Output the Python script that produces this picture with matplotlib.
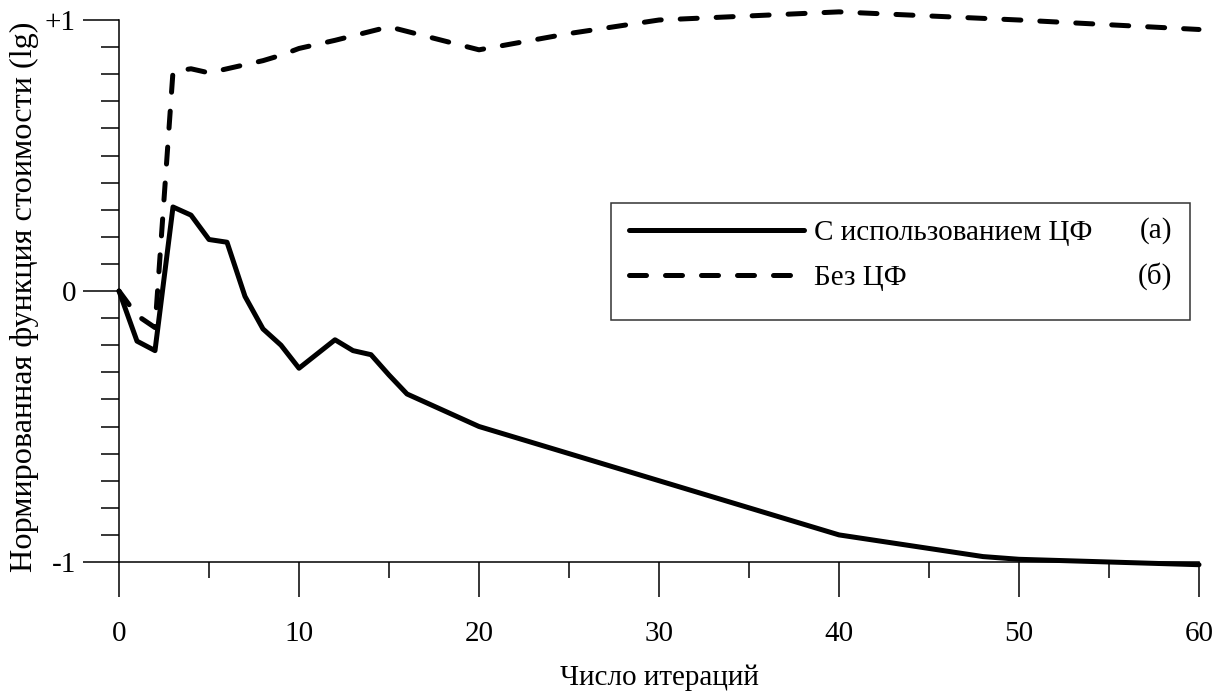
import matplotlib
matplotlib.use("Agg")
import matplotlib.pyplot as plt
from matplotlib.ticker import MultipleLocator, FixedLocator
from matplotlib.patches import Rectangle

# ---- data ----
x_a = [0, 1, 2, 3, 4, 5, 6, 7, 8, 9, 10, 12, 13, 14, 15, 16, 20, 30, 40, 48, 50, 60]
y_a = [0, -0.185, -0.22, 0.31, 0.28, 0.19, 0.18, -0.02, -0.14, -0.20, -0.285,
       -0.18, -0.22, -0.235, -0.31, -0.38, -0.50, -0.70, -0.90, -0.98, -0.99, -1.01]

x_b = [0, 1, 2, 3, 4, 5, 6, 7, 8, 9, 10, 12, 15, 20, 25, 30, 40, 50, 60]
y_b = [0, -0.09, -0.135, 0.81, 0.82, 0.805, 0.82, 0.835, 0.85, 0.87, 0.895,
       0.925, 0.975, 0.89, 0.95, 1.0, 1.03, 1.0, 0.965]

label_a = "С использованием ЦФ"
label_b = "Без ЦФ"
tag_a = "(а)"
tag_b = "(б)"
xlabel = "Число итераций"
ylabel = "Нормированная функция стоимости (lg)"
x_major = [0, 10, 20, 30, 40, 50, 60]
y_major = [-1, 0, 1]
y_major_labels = ["-1", "0", "+1"]

FS = 21
plt.rcParams['font.family'] = ['Liberation Serif', 'DejaVu Serif']
plt.rcParams['font.size'] = FS

W, H = 1223, 693
fig = plt.figure(figsize=(W / 100, H / 100), dpi=100)
ax = fig.add_axes([119 / W, 1 - 562 / H, 1080 / W, 542 / H])

lw = 3.6
ax.plot(x_a, y_a, color='black', lw=lw, solid_joinstyle='round',
        solid_capstyle='round', clip_on=False, label=label_a)
ax.plot(x_b, y_b, color='black', lw=lw, linestyle=(0, (3.4, 3.8)),
        dash_capstyle='round', dash_joinstyle='round', clip_on=False, label=label_b)

ax.set_xlim(0, 60)
ax.set_ylim(-1, 1)

for s in ['top', 'right']:
    ax.spines[s].set_visible(False)
for s in ['left', 'bottom']:
    ax.spines[s].set_linewidth(1.1)

ax.xaxis.set_major_locator(FixedLocator(x_major))
ax.xaxis.set_minor_locator(MultipleLocator(5))
ax.yaxis.set_major_locator(FixedLocator(y_major))
ax.yaxis.set_minor_locator(MultipleLocator(0.1))
ax.set_yticklabels(y_major_labels)

ax.tick_params(axis='x', which='major', direction='out', length=25, width=1.1,
               pad=17.5, labelsize=FS)
ax.tick_params(axis='x', which='minor', direction='out', length=11.5, width=1.1)
ax.tick_params(axis='y', which='major', direction='out', length=26, width=1.1,
               pad=5, labelsize=FS)
ax.tick_params(axis='y', which='minor', direction='out', length=13, width=1.1)

ax.set_xlabel(xlabel, fontsize=FS, labelpad=12.5)
ax.set_ylabel(ylabel, fontsize=23.2)
ax.yaxis.set_label_coords((39.5 - 119) / 1080, (562 - 297) / 542)

# legend (frame drawn separately)
def px_to_ax(px, py):
    return (px - 119) / 1080, (562 - py) / 542

lx0, ltop = px_to_ax(611, 203)
lx1, lbot = px_to_ax(1190, 320)
frame = Rectangle((lx0, lbot), lx1 - lx0, ltop - lbot, transform=ax.transAxes,
                  facecolor='white', edgecolor='#333333', lw=1.1, zorder=4)
ax.add_patch(frame)

hx, hy = px_to_ax(611, 202)
leg = ax.legend(loc='upper left', bbox_to_anchor=(hx, hy), borderaxespad=0,
                frameon=False, handlelength=6.0, handletextpad=0.35,
                borderpad=0.6, labelspacing=0.65, fontsize=FS)
leg.set_zorder(5)

tx, ty_a = px_to_ax(1172, 231)
_, ty_b = px_to_ax(1172, 276)
ax.text(tx, ty_a, tag_a, transform=ax.transAxes, ha='right', va='center',
        fontsize=FS, zorder=6)
ax.text(tx, ty_b, tag_b, transform=ax.transAxes, ha='right', va='center',
        fontsize=FS, zorder=6)

fig.savefig("out.png", dpi=100)
